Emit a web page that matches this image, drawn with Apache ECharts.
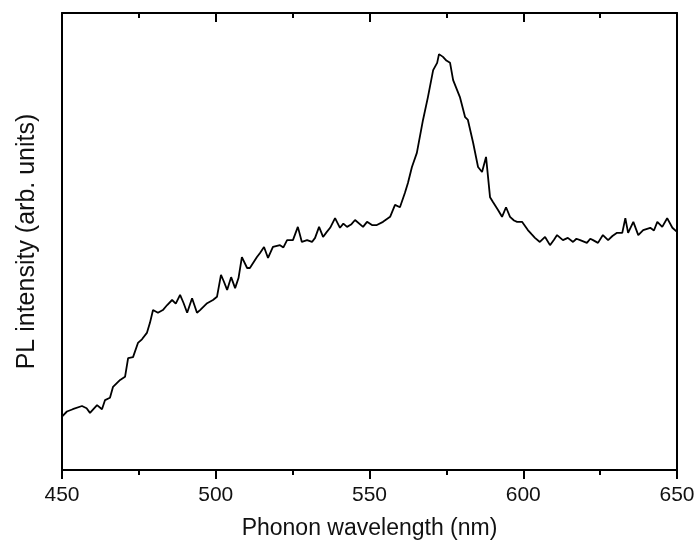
<!DOCTYPE html>
<html>
<head>
<meta charset="utf-8">
<script src="https://cdn.jsdelivr.net/npm/echarts@6/dist/echarts.min.js"></script>
<style>
  html, body { margin: 0; padding: 0; background: #fff; }
  #chart { width: 694px; height: 543px; }
</style>
</head>
<body>
<div id="chart"></div>
<script>
// wavelength (nm) and PL intensity (arb. units, 0-100 scale)
let wavelength = [
  450, 451.6, 453.5, 456.5, 458, 459.1, 461.4, 463, 464, 465.6, 466.6, 468.9, 470.5, 471.5, 473.1, 474.7,
  476, 477.6, 478.6, 479.6, 481.2, 482.8, 484.2, 485.8, 487, 488.4, 489.5, 490.7, 492.3, 493.9,
  494.9, 497.2, 499.1, 500.4, 501.7, 502.6, 503.7, 505, 506.3, 507.4, 508.5, 510.2, 511.1, 513.4, 514.4,
  515.7, 517, 518.6, 520.9, 522, 523.2, 525.1, 526.7, 528, 529.7, 531.3, 532.3, 533.6, 534.9, 536,
  537.2, 538.8, 540.4, 541.5, 542.7, 544, 545.3, 547.9, 549.2, 550.8, 552.4, 554.4, 556.7, 558.3, 559.9,
  561.5, 562.5, 563.8, 565.4, 567.4, 569, 570.7, 572, 572.6, 573.9, 575, 576.2, 577.2, 579.4,
  581.1, 582, 583.7, 585.3, 586.6, 587.9, 589.2,
  590.2, 591.8, 593.1, 594.4, 595.7, 597, 598, 599.6, 601.5, 602.7, 603.8, 605.4, 607.1, 608.7, 610, 611,
  612.9, 614.5, 616.2, 617.3, 618.5, 620.7, 621.8, 622.7, 624.3, 625.9, 627.6, 629, 630.5, 632.2, 633.2, 634.1,
  635.8, 637.4, 639, 641.3, 642.5, 643.6, 645.2, 646.8, 648.5, 650
];
let intensity = [
  11.7, 12.8, 13.3, 14.0, 13.5, 12.5, 14.2, 13.3, 15.3, 15.8, 18.2, 19.7, 20.4, 24.5, 24.7, 27.8,
  28.6, 30.0, 32.2, 35.0, 34.4, 35.0, 36.1, 37.2, 36.4, 38.3, 36.6, 34.4, 37.6, 34.4,
  35.0, 36.5, 37.2, 37.9, 42.7, 41.3, 39.4, 42.2, 39.8, 42.0, 46.6, 44.2, 44.2, 46.6, 47.5,
  48.8, 46.4, 48.8, 49.2, 48.7, 50.3, 50.3, 53.2, 49.9, 50.3, 49.9, 50.8, 53.2, 51.0, 52.0,
  53.0, 55.1, 53.0, 53.9, 53.2, 53.7, 54.7, 53.2, 54.3, 53.6, 53.6, 54.3, 55.4, 58.0, 57.5,
  60.6, 62.8, 66.3, 69.4, 76.6, 81.6, 87.5, 89.1, 91.0, 90.4, 89.6, 89.1, 85.3, 81.6,
  77.2, 76.6, 71.6, 66.3, 65.2, 68.5, 59.7,
  58.6, 56.9, 55.4, 57.5, 55.4, 54.6, 54.3, 54.3, 52.5, 51.6, 50.8, 49.9, 51.0, 49.2, 50.4, 51.4,
  50.3, 50.8, 49.9, 50.6, 50.3, 49.7, 50.6, 50.3, 49.7, 51.4, 50.3, 51.2, 51.9, 51.9, 55.1, 51.9,
  54.3, 51.4, 52.5, 53.0, 52.4, 54.3, 53.2, 55.1, 53.0, 52.1
];

let myChart = echarts.init(document.getElementById('chart'));

function frameLine() {
    return { show: true, onZero: false, lineStyle: { color: '#000', width: 2 } };
}

let option = {
    animation: false,
    grid: { left: 62, right: 17, top: 13, bottom: 73, containLabel: false, outerBoundsMode: 'none' },
    xAxis: [{
        type: 'value',
        min: 450,
        max: 650,
        interval: 50,
        name: 'Phonon wavelength (nm)',
        nameLocation: 'middle',
        nameGap: 47,
        nameTextStyle: { fontFamily: 'Liberation Sans', fontSize: 23, color: '#111' },
        axisLine: frameLine(),
        axisTick: { show: true, inside: false, length: 9, lineStyle: { color: '#000', width: 2 } },
        minorTick: { show: true, splitNumber: 2, length: 5, lineStyle: { color: '#000', width: 2 } },
        axisLabel: { fontFamily: 'Liberation Sans', fontSize: 21, color: '#111', margin: 15 },
        splitLine: { show: false }
    }, {
        type: 'value',
        position: 'top',
        min: 450,
        max: 650,
        interval: 50,
        axisLine: frameLine(),
        axisTick: { show: true, inside: true, length: 9, lineStyle: { color: '#000', width: 2 } },
        minorTick: { show: true, splitNumber: 2, length: 5, lineStyle: { color: '#000', width: 2 } },
        axisLabel: { show: false },
        splitLine: { show: false }
    }],
    yAxis: [{
        type: 'value',
        min: 0,
        max: 100,
        name: 'PL intensity (arb. units)',
        nameLocation: 'middle',
        nameGap: 22,
        nameTextStyle: { fontFamily: 'Liberation Sans', fontSize: 25, color: '#111' },
        axisLine: frameLine(),
        axisTick: { show: false },
        axisLabel: { show: false },
        splitLine: { show: false }
    }, {
        type: 'value',
        position: 'right',
        min: 0,
        max: 100,
        axisLine: frameLine(),
        axisTick: { show: false },
        axisLabel: { show: false },
        splitLine: { show: false }
    }],
    series: [{
        type: 'line',
        data: wavelength.map((w, i) => [w, intensity[i]]),
        showSymbol: false,
        lineStyle: { color: '#000', width: 1.8 }
    }]
};
myChart.setOption(option);
</script>
</body>
</html>
